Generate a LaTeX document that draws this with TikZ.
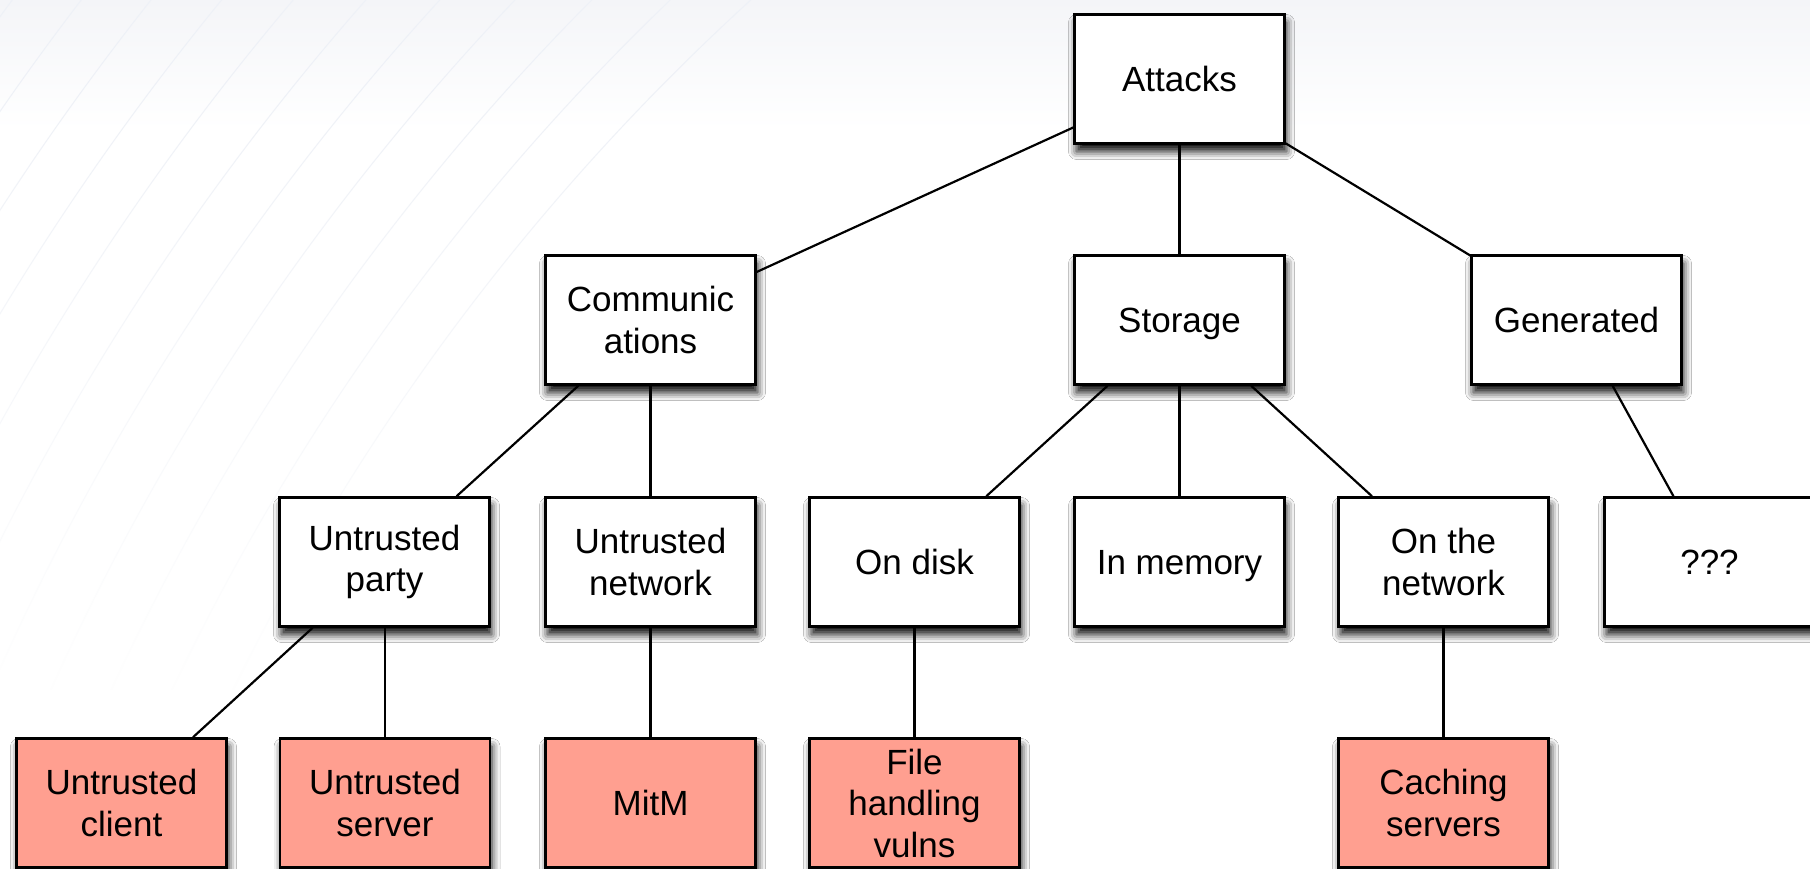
\documentclass[tikz,border=0pt]{standalone}
\usepackage{fontspec}
\setmainfont{Liberation Sans}
\usetikzlibrary{shadows.blur,fadings}
\definecolor{salmon}{RGB}{255,159,144}
\definecolor{bgline}{RGB}{238,241,247}
\newcommand{\nodesc}[1]{\raisebox{0pt}[\height][0pt]{#1}}
\tikzset{
  box/.style={draw=black, line width=2.6pt, fill=white, rectangle,
    minimum width=210pt, minimum height=129pt, inner sep=0pt, align=center,
    font=\fontsize{35}{41.5}\selectfont,
    blur shadow={shadow xshift=2pt, shadow yshift=-8pt, shadow blur radius=8pt, shadow opacity=95}},
  leaf/.style={box, fill=salmon},
  link/.style={draw=black, line width=2.2pt}
}
\begin{document}
\begin{tikzpicture}[x=1pt,y=-1pt]
\useasboundingbox (0,0) rectangle (1810,869);
\fill[white] (0,0) rectangle (1810,869);
\shade[top color={rgb,255:red,244;green,245;blue,248}, bottom color=white] (0,0) rectangle (1810,130);
\begin{scope}
  \clip (0,0) rectangle (1400,700);
  \foreach \r in {2300,2355,...,3400} {
    \draw[bgline, line width=1pt] (2300,1700) circle[radius=\r];
  }
\end{scope}
\fill[white, path fading=north] (0,60) rectangle (1810,700);
\fill[white] (0,690) rectangle (1810,869);

\node[box] (attacks) at (1179.5,79) {Attacks};

\node[box] (comm) at (650.5,320) {Communic\\ations};
\node[box] (storage) at (1179.5,320) {\nodesc{Storage}};
\node[box] (gen) at (1576.5,320) {Generated};

\node[box] (party) at (384.5,562) {Untrusted\\party};
\node[box] (unet) at (650.5,562) {Untrusted\\network};
\node[box] (disk) at (914.5,562) {On disk};
\node[box] (mem) at (1179.5,562) {\nodesc{In memory}};
\node[box] (onnet) at (1443.5,562) {On the\\network};
\node[box] (qqq) at (1709.5,562) {???};

\node[leaf] (client) at (121.5,803) {Untrusted\\client};
\node[leaf] (server) at (385,803) {Untrusted\\server};
\node[leaf] (mitm) at (650.5,803) {MitM};
\node[leaf] (file) at (914.5,803) {File\\handling\\vulns};
\node[leaf] (cache) at (1443.5,803) {Caching\\servers};

\draw[link] (attacks) -- (comm);
\draw[link] (attacks) -- (storage);
\draw[link] (attacks) -- (gen);
\draw[link] (comm) -- (party);
\draw[link] (comm) -- (unet);
\draw[link] (storage) -- (disk);
\draw[link] (storage) -- (mem);
\draw[link] (storage) -- (onnet);
\draw[link] (gen) -- (qqq);
\draw[link] (party) -- (client);
\draw[link] (party.south -| server) -- (server);
\draw[link] (unet) -- (mitm);
\draw[link] (disk) -- (file);
\draw[link] (onnet) -- (cache);
\end{tikzpicture}
\end{document}
